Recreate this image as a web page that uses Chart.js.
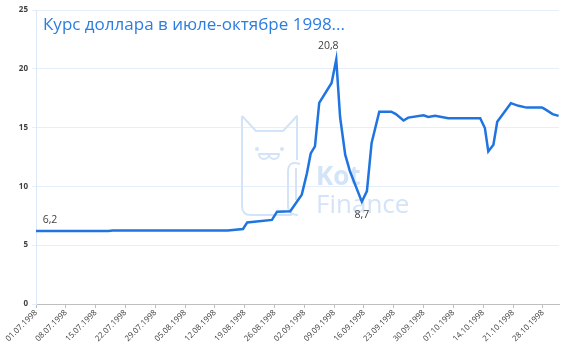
<!DOCTYPE html>
<html>
<head>
<meta charset="utf-8">
<script src="https://cdn.jsdelivr.net/npm/chart.js@4.4.1/dist/chart.umd.min.js"></script>
<style>
  html, body { margin: 0; padding: 0; background: #fff; }
  #wrap { width: 570px; height: 352px; }
</style>
</head>
<body>
<div id="wrap"><canvas id="rateChart"></canvas></div>
<script>
// Day offsets from 01.07.1998 and the rouble/dollar rate
const days = [0, 17, 18, 45, 48.6, 49.6, 55.4, 56.6, 59.7, 62.4, 63.6, 64.5, 65.5, 66.5, 69.4, 70.5,
    71.4, 72.6, 73.7, 76.5, 77.7, 78.8, 80.6, 83.4, 84.5, 86.3, 87.4, 91, 92.1, 93.7, 96.8,
    104.3, 105.4, 106.2, 107.4, 108.3, 111.5, 113.3, 115.2, 118.8, 119.5, 121.3, 122.7];
const rates = [6.2, 6.2, 6.24, 6.24, 6.38, 6.94, 7.15, 7.85, 7.88, 9.3, 11.1, 12.8, 13.4, 17.1, 18.8, 20.8,
    15.9, 12.7, 11.3, 8.7, 9.6, 13.7, 16.35, 16.35, 16.15, 15.6, 15.85, 16.05, 15.9, 16.0, 15.8,
    15.8, 14.96, 12.97, 13.54, 15.5, 17.08, 16.85, 16.7, 16.7, 16.57, 16.15, 16.0];

const tickLabels = ["01.07.1998", "08.07.1998", "15.07.1998", "22.07.1998", "29.07.1998", "05.08.1998",
    "12.08.1998", "19.08.1998", "26.08.1998", "02.09.1998", "09.09.1998", "16.09.1998", "23.09.1998",
    "30.09.1998", "07.10.1998", "14.10.1998", "21.10.1998", "28.10.1998"];

// points that get a value label, and where it goes
const labelledPoints = [
    { index: 0, text: "6,2", dx: 14, dy: -11 },
    { index: 15, text: "20,8", dx: -8, dy: -13 },
    { index: 19, text: "8,7", dx: 0, dy: 13 }
];

const chartTitle = "Курс доллара в июле-октябре 1998...";

// Title + value labels
const textPlugin = {
    id: "textPlugin",
    afterDatasetsDraw(chart) {
        const ctx = chart.ctx;
        const meta = chart.getDatasetMeta(0);
        ctx.save();
        ctx.font = "10.5px 'Open Sans', sans-serif";
        ctx.fillStyle = "#404040";
        ctx.textAlign = "center";
        ctx.textBaseline = "middle";
        labelledPoints.forEach(p => {
            const pt = meta.data[p.index];
            ctx.fillText(p.text, pt.x + p.dx, pt.y + p.dy);
        });
        ctx.font = "17px 'Open Sans', sans-serif";
        ctx.fillStyle = "#2b7ddf";
        ctx.textAlign = "left";
        ctx.fillText(chartTitle, 43, 25);
        ctx.restore();
    }
};

// Faint "Kot Finance" watermark behind the line
const watermarkPlugin = {
    id: "watermark",
    beforeDatasetsDraw(chart) {
        const ctx = chart.ctx;
        ctx.save();
        ctx.strokeStyle = "#d3e3f8";
        ctx.fillStyle = "#d3e3f8";
        ctx.lineWidth = 2;
        ctx.lineJoin = "round";
        // cat head/body
        ctx.beginPath();
        ctx.moveTo(242, 116);
        ctx.lineTo(256, 131);
        ctx.lineTo(283, 131);
        ctx.lineTo(297, 116);
        ctx.lineTo(297, 160);
        ctx.moveTo(242, 116);
        ctx.lineTo(242, 206);
        ctx.quadraticCurveTo(242, 215, 251, 215);
        ctx.lineTo(292, 215);
        ctx.stroke();
        // eyes
        ctx.beginPath(); ctx.arc(257, 149, 2, 0, Math.PI * 2); ctx.fill();
        ctx.beginPath(); ctx.arc(282, 149, 2, 0, Math.PI * 2); ctx.fill();
        // mouth
        ctx.beginPath();
        ctx.arc(264, 154, 5, 0, Math.PI);
        ctx.arc(274, 154, 5, 0, Math.PI);
        ctx.stroke();
        // paw
        ctx.beginPath();
        ctx.moveTo(300, 164);
        ctx.quadraticCurveTo(288, 160, 288, 172);
        ctx.lineTo(288, 205);
        ctx.quadraticCurveTo(288, 215, 298, 215);
        ctx.stroke();
        ctx.beginPath();
        ctx.moveTo(296, 168);
        ctx.lineTo(296, 200);
        ctx.stroke();
        ctx.font = "bold 26px 'Open Sans', sans-serif";
        ctx.textBaseline = "alphabetic";
        ctx.fillText("Kot", 316, 185);
        ctx.font = "26px 'Open Sans', sans-serif";
        ctx.fillText("Finance", 316, 213);
        ctx.restore();
    }
};

const ctx = document.getElementById("rateChart").getContext("2d");
new Chart(ctx, {
    type: "line",
    data: {
        datasets: [{
            data: days.map((d, i) => ({ x: d, y: rates[i] })),
            borderColor: "#1f74e0",
            borderWidth: 2.5,
            pointRadius: 0,
            tension: 0,
            fill: false
        }]
    },
    options: {
        responsive: true,
        maintainAspectRatio: false,
        animation: false,
        layout: { padding: { top: 10, right: 11, left: 0, bottom: 0 } },
        plugins: {
            legend: { display: false },
            tooltip: { enabled: false }
        },
        scales: {
            x: {
                type: "linear",
                min: 0,
                max: 122.8,
                afterBuildTicks(scale) {
                    scale.ticks = tickLabels.map((t, i) => ({ value: i * 7 }));
                },
                afterFit(scale) { scale.height = 48; },
                ticks: {
                    autoSkip: false,
                    maxRotation: 45,
                    minRotation: 45,
                    padding: 0,
                    color: "#404040",
                    font: { family: "'Open Sans', sans-serif", size: 8 },
                    callback: (v) => tickLabels[Math.round(v / 7)]
                },
                grid: { drawOnChartArea: false, drawTicks: true, tickLength: 4, color: "#bfbfbf" },
                border: { color: "#bfbfbf", width: 1 }
            },
            y: {
                min: 0,
                max: 25,
                afterFit(scale) { scale.width = 36; },
                ticks: {
                    stepSize: 5,
                    padding: 4,
                    color: "#404040",
                    font: { family: "'Open Sans', sans-serif", size: 8, weight: "bold" }
                },
                grid: { color: "#e6eefa", tickLength: 4 },
                border: { color: "#dce8f8", width: 1 }
            }
        }
    },
    plugins: [watermarkPlugin, textPlugin]
});
</script>
</body>
</html>
